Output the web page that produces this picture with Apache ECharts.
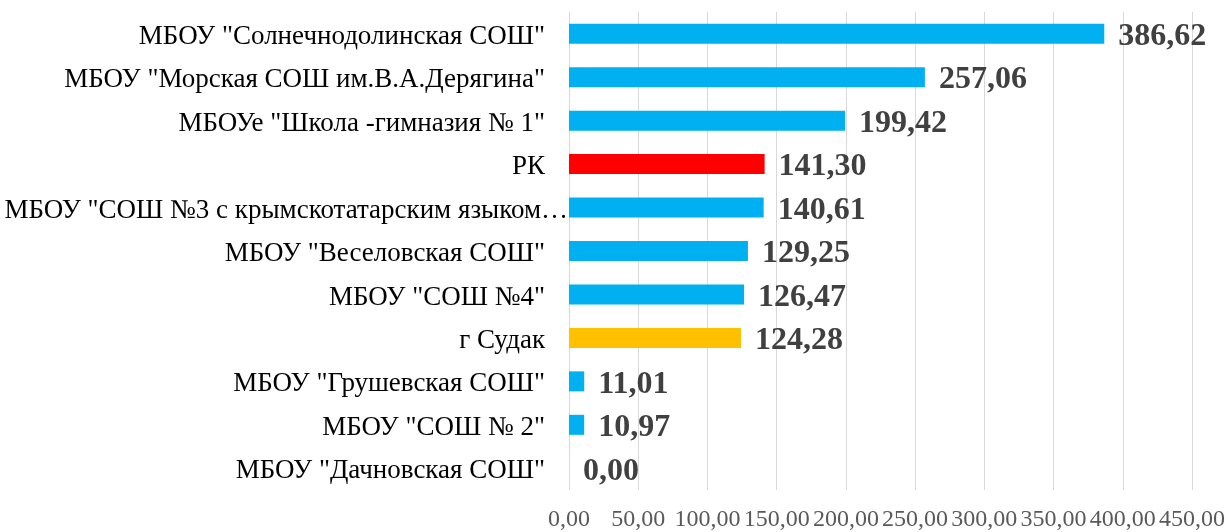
<!DOCTYPE html>
<html>
<head>
<meta charset="utf-8">
<script src="https://cdn.jsdelivr.net/npm/echarts@6/dist/echarts.min.js"></script>
<style>html,body{margin:0;padding:0;background:#fff;}#c{width:1228px;height:532px;}</style>
</head>
<body>
<div id="c"></div>
<script>
const categories = [
  'МБОУ "Солнечнодолинская СОШ"',
  'МБОУ "Морская СОШ им.В.А.Дерягина"',
  'МБОУе "Школа -гимназия № 1"',
  'РК',
  'МБОУ "СОШ №3 с крымскотатарским языком…',
  'МБОУ "Веселовская СОШ"',
  'МБОУ "СОШ №4"',
  'г Судак',
  'МБОУ "Грушевская СОШ"',
  'МБОУ "СОШ № 2"',
  'МБОУ "Дачновская СОШ"'
];
const values = [386.62, 257.06, 199.42, 141.30, 140.61, 129.25, 126.47, 124.28, 11.01, 10.97, 0.00];
const barColors = ['#00B0F0','#00B0F0','#00B0F0','#FF0000','#00B0F0','#00B0F0','#00B0F0','#FFC000','#00B0F0','#00B0F0','#00B0F0'];
const xTicks = [0, 50, 100, 150, 200, 250, 300, 350, 400, 450];

const fmt = v => Number(v).toFixed(2).replace('.', ',');
const chart = echarts.init(document.getElementById('c'));
chart.setOption({
  animation: false,
  grid: {left: 569, right: 35, top: 12, bottom: 38, containLabel: false},
  xAxis: {
    type: 'value', min: xTicks[0], max: xTicks[xTicks.length-1], interval: 50,
    axisLine: {show: false}, axisTick: {show: false},
    splitLine: {show: true, lineStyle: {color: '#d9d9d9', width: 1}},
    axisLabel: {formatter: fmt, color: '#595959', fontFamily: 'Liberation Serif', fontSize: 24, margin: 18}
  },
  yAxis: {
    type: 'category', data: categories, inverse: true,
    axisLine: {show: false}, axisTick: {show: false},
    axisLabel: {
      margin: 0, color: '#000', fontFamily: 'Liberation Serif', fontSize: 27,
      formatter: (v) => v.endsWith('…') ? '{l|' + v + '}' : '{n|' + v + '}',
      rich: {
        n: {fontFamily: 'Liberation Serif', fontSize: 27, color: '#000', padding: [6, 24, 0, 0]},
        l: {fontFamily: 'Liberation Serif', fontSize: 27, color: '#000', padding: [6, 1, 0, 0]}
      }
    }
  },
  series: [{
    type: 'bar',
    data: values.map((v, i) => ({value: v, itemStyle: {color: barColors[i]}})),
    barWidth: '46%',
    label: {
      show: true, position: 'right', distance: 14, offset: [0, 3],
      formatter: p => fmt(p.value),
      fontFamily: 'Liberation Serif', fontWeight: 'bold', fontSize: 32, color: '#404040'
    }
  }]
});
</script>
</body>
</html>
